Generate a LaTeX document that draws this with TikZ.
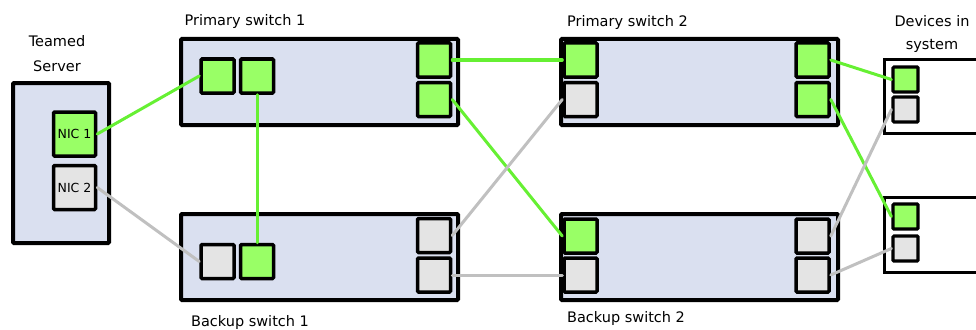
\documentclass[tikz,border=0pt]{standalone}
\usepackage{fontspec}
\setmainfont{DejaVu Sans}
\definecolor{boxfill}{HTML}{DAE0F0}
\definecolor{portgreen}{HTML}{99FF66}
\definecolor{portgrey}{HTML}{E4E4E4}
\definecolor{wiregreen}{HTML}{66F033}
\definecolor{wiregrey}{HTML}{C0C0C0}
\tikzset{
  unit/.style={draw=black, line width=4pt, fill=boxfill, rounded corners=1pt, inner sep=0pt},
  devbox/.style={draw=black, line width=2.8pt, fill=white, inner sep=0pt},
  port/.style={draw=black, line width=3.5pt, rounded corners=1pt, inner sep=0pt, minimum width=33pt, minimum height=34pt},
  smallport/.style={draw=black, line width=3.2pt, rounded corners=1pt, inner sep=0pt, minimum width=25pt, minimum height=25pt},
  on/.style={fill=portgreen},
  off/.style={fill=portgrey},
  nic/.style={port, minimum width=42pt, minimum height=44pt, font=\fontsize{12.5}{14}\selectfont},
  live/.style={draw=wiregreen, line width=3pt},
  idle/.style={draw=wiregrey, line width=3pt},
  caption/.style={font=\fontsize{14.5}{17}\selectfont, inner sep=0pt, anchor=base},
}
\begin{document}
\begin{tikzpicture}[x=1pt, y=-1pt]
\useasboundingbox (0,0) rectangle (976,329);

% device boxes (run off the right edge)
\node[devbox, anchor=north west, minimum width=110pt, minimum height=74pt] (dev1) at (883,58) {};
\node[devbox, anchor=north west, minimum width=110pt, minimum height=75pt] (dev2) at (883,196) {};

% teamed server
\node[unit, anchor=north west, minimum width=96pt, minimum height=160pt] (srv) at (11,81) {};
\node[nic, on] (nic1) at (74.5,134) {NIC 1};
\node[nic, off] (nic2) at (74.5,187.5) {NIC 2};

% switch bodies
\node[unit, anchor=north west, minimum width=277pt, minimum height=86pt] (ps1) at (179,37) {};
\node[unit, anchor=north west, minimum width=277pt, minimum height=86pt] (bs1) at (179,212) {};
\node[unit, anchor=north west, minimum width=277pt, minimum height=86pt] (ps2) at (559,37) {};
\node[unit, anchor=north west, minimum width=277pt, minimum height=86pt] (bs2) at (559,212) {};

% primary switch 1 ports
\node[port, on] (ps1a) at (217.5,76) {};
\node[port, on] (ps1b) at (257,76) {};
\node[port, on] (ps1c) at (434,60) {};
\node[port, on] (ps1d) at (434,99.5) {};

% backup switch 1 ports
\node[port, off] (bs1a) at (217.5,261.5) {};
\node[port, on] (bs1b) at (257,261.5) {};
\node[port, off] (bs1c) at (434,235.5) {};
\node[port, off] (bs1d) at (434,275) {};

% primary switch 2 ports
\node[port, on] (ps2a) at (580.5,60) {};
\node[port, off] (ps2b) at (580.5,99.5) {};
\node[port, on] (ps2c) at (812.5,60) {};
\node[port, on] (ps2d) at (812.5,99.5) {};

% backup switch 2 ports
\node[port, on] (bs2a) at (580.5,236) {};
\node[port, off] (bs2b) at (580.5,275) {};
\node[port, off] (bs2c) at (812.5,236) {};
\node[port, off] (bs2d) at (812.5,275) {};

% device ports
\node[smallport, on] (d1a) at (905.5,79.5) {};
\node[smallport, off] (d1b) at (905.5,109.5) {};
\node[smallport, on] (d2a) at (905.5,216.5) {};
\node[smallport, off] (d2b) at (905.5,248.5) {};

% links
\begin{scope}[line cap=round]
\draw[live] (nic1.east) -- (ps1a.west);
\draw[idle] (nic2.east) -- (bs1a.west);
\draw[live] (ps1b.south) -- (bs1b.north);
\draw[live] (ps1c.east) -- (ps2a.west);
\draw[live] (ps1d.east) -- (bs2a.west);
\draw[idle] (bs1c.east) -- (ps2b.west);
\draw[idle] (bs1d.east) -- (bs2b.west);
\draw[live] (ps2c.east) -- (d1a.west);
\draw[live] (ps2d.east) -- (d2a.west);
\draw[idle] (bs2c.east) -- (d1b.west);
\draw[idle] (bs2d.east) -- (d2b.west);
\end{scope}

% captions
\node[caption] (lsrv1) at (57,47) {Teamed};
\node[caption] (lsrv2) at (57,71) {Server};
\node[caption] (lps1) at (245,26) {Primary switch 1};
\node[caption] (lps2) at (627.5,27) {Primary switch 2};
\node[caption] (lbs1) at (250,326) {Backup switch 1};
\node[caption] (lbs2) at (626,322) {Backup switch 2};
\node[caption] (ldev1) at (932,27) {Devices in};
\node[caption] (ldev2) at (932,49) {system};
\end{tikzpicture}
\end{document}
